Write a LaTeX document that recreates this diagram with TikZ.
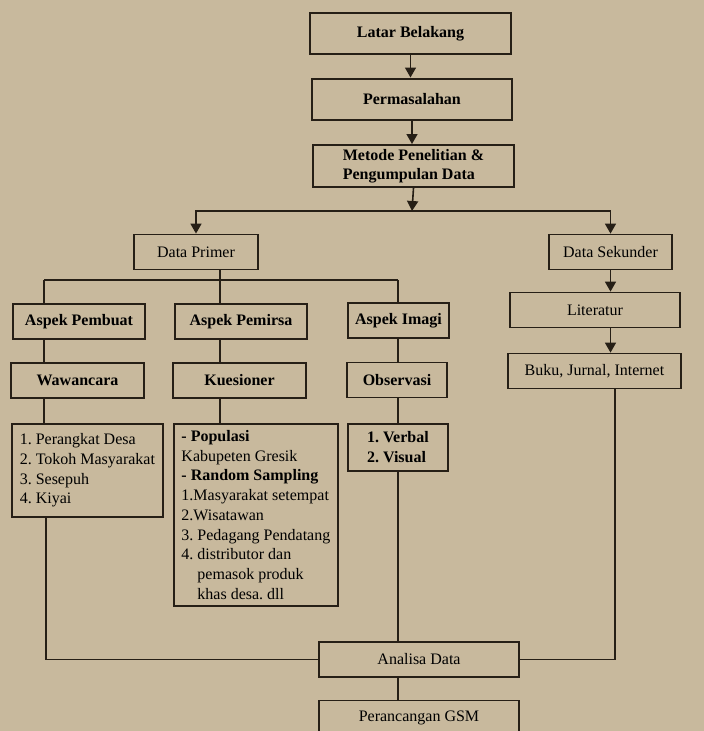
\documentclass[tikz,border=0pt]{standalone}
\usepackage{fontspec}
\setmainfont{Liberation Serif}
\usetikzlibrary{arrows.meta,calc}
\definecolor{bgtan}{RGB}{200,185,157}
\definecolor{ink}{RGB}{38,31,22}
\newcommand{\listfont}{\fontsize{16}{19.7}\selectfont\frenchspacing}
\tikzstyle{box}=[rectangle,draw=ink,line width=1.8pt,minimum height=35,inner sep=0pt,font=\fontsize{16}{19.7}\selectfont]
\tikzstyle{boldbox}=[box,font=\fontsize{16}{19}\selectfont\bfseries]
\tikzstyle{topbox}=[boldbox,line width=2pt,minimum height=41]
\tikzstyle{listbox}=[box,anchor=north west,align=left,font=\listfont]
\tikzstyle{link}=[draw=ink,line width=1.6pt]

\begin{document}
\begin{tikzpicture}[x=1pt,y=-1pt,>={Triangle[length=10pt,width=11pt]}]
    \path[use as bounding box] (0,0) rectangle (704,731);
    \fill[bgtan] (0,0) rectangle (704,731);
    \clip (0,0) rectangle (704,731);

    \foreach \pos/\name/\w/\txt in {{(410.5,33.5)/latar/201/Latar Belakang}, {(412,99)/masalah/200/Permasalahan}}
        \node[topbox, minimum width=\w] (\name) at \pos {\txt};
    \node[topbox, minimum width=201, minimum height=42, align=left] (metode) at (413.5,166) {Metode Penelitian \&\\Pengumpulan Data};
    \foreach \pos/\name/\w/\txt in {{(196,252)/primer/124/Data Primer}, {(610.5,252)/sekunder/123/Data Sekunder},
            {(595,310)/literatur/170/Literatur}, {(594.5,371)/buku/173/{Buku, Jurnal, Internet}},
            {(419,659.5)/analisa/200/Analisa Data}, {(419,718)/gsm/200/Perancangan GSM}}
        \node[box, minimum width=\w] (\name) at \pos {\txt};
    \foreach \pos/\name/\w/\txt in {{(79,321.5)/pembuat/132/Aspek Pembuat}, {(241,321.5)/pemirsa/132/Aspek Pemirsa},
            {(398.5,320.5)/imagi/101/Aspek Imagi}, {(77.5,380.5)/wawancara/133/Wawancara},
            {(239.5,380.5)/kuesioner/133/Kuesioner}, {(397,380)/observasi/100/Observasi}}
        \node[boldbox, minimum width=\w] (\name) at \pos {\txt};

    \node[listbox, minimum width=151, minimum height=93] (narasumber) at (11,423)
        {1. Perangkat Desa\\2. Tokoh Masyarakat\\3. Sesepuh\\4. Kiyai};
    \node[listbox, minimum width=164, minimum height=182] (responden) at (173,423)
        {\textbf{- Populasi}\\Kabupeten Gresik\\\textbf{- Random Sampling}\\1.Masyarakat setempat\\2.Wisatawan\\3. Pedagang Pendatang\\4. distributor dan\\\hspace*{16pt}pemasok produk\\\hspace*{16pt}khas desa. dll};
    \node[listbox, minimum width=100, minimum height=47] (pengamatan) at (347,423)
        {\textbf{1. Verbal}\\\textbf{2. Visual}};

    \coordinate (cabang) at (412,211);
    \coordinate (kiri) at (44,280);
    \coordinate (tengah) at (220,280);
    \coordinate (kanan) at (398,280);
    \coordinate (bawahkiri) at (46,659.5);
    \coordinate (bawahkanan) at (615,659.5);

    \draw[link, ->] (latar.south) -- (latar.south |- masalah.north);
    \draw[link, ->] (masalah.south) -- (masalah.south |- metode.north);
    \draw[link, ->] (metode.south) -- (cabang);
    \draw[link, ->] (cabang) -| (primer.north);
    \draw[link, ->] (cabang) -| (sekunder.north);
    \draw[link, ->] (sekunder.south) -- (sekunder.south |- literatur.north);
    \draw[link, ->] (literatur.south -| sekunder) -- (buku.north -| sekunder);

    \draw[link] (primer.south -| tengah) -- (tengah);
    \draw[link] (kiri) -- (kanan);
    \foreach \col/\atas/\mid/\bawah in {kiri/pembuat/wawancara/narasumber, tengah/pemirsa/kuesioner/responden, kanan/imagi/observasi/pengamatan} {
        \draw[link] (\col) -- (\col |- \atas.north);
        \draw[link] (\col |- \atas.south) -- (\col |- \mid.north);
        \draw[link] (\col |- \mid.south) -- (\col |- \bawah.north);
    }
    \draw[link] (narasumber.south -| bawahkiri) -- (bawahkiri) -- (analisa.west);
    \draw[link] (buku.south -| bawahkanan) -- (bawahkanan) -- (analisa.east);
    \draw[link] (kanan |- pengamatan.south) -- (kanan |- analisa.north);
    \draw[link] (kanan |- analisa.south) -- (kanan |- gsm.north);
\end{tikzpicture}
\end{document}
